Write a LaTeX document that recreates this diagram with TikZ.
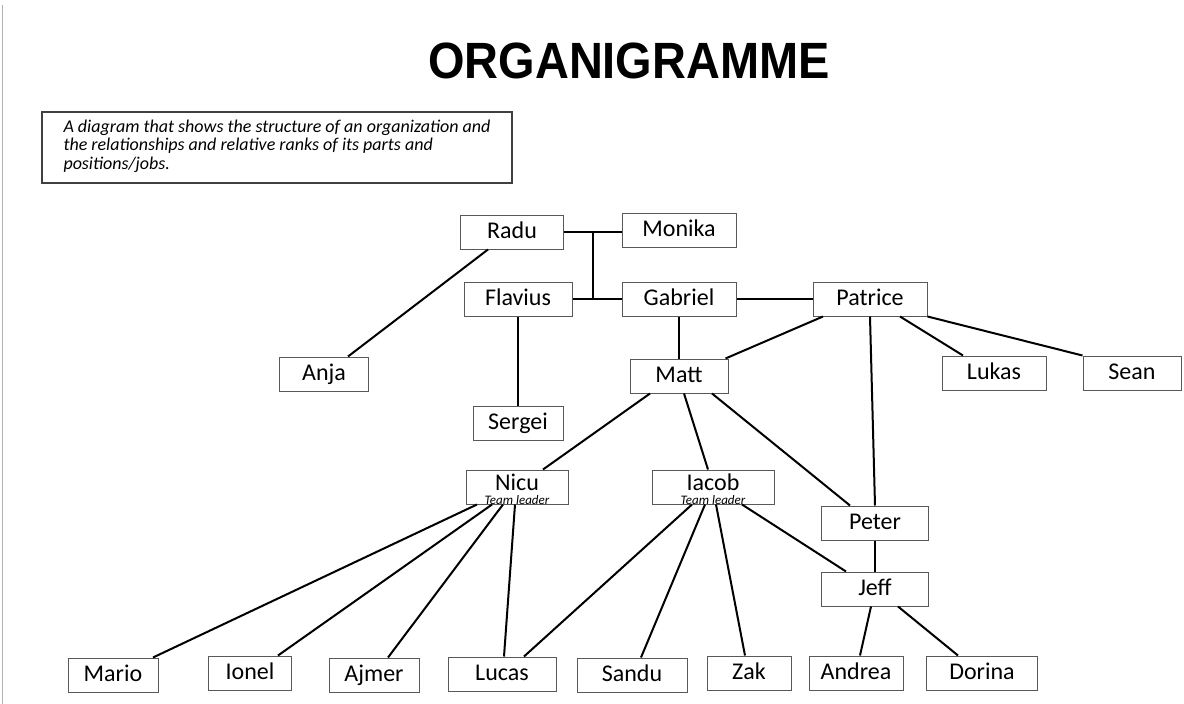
\documentclass[tikz,border=0pt]{standalone}
\usepackage{fontspec}
\setmainfont{Carlito}
\newfontfamily\titlefont{Liberation Sans}

\begin{document}
\begin{tikzpicture}[x=1pt, y=-1pt,
    box/.style = {draw=black!65, line width=1pt, minimum width=#1,
                minimum height=34pt, inner sep=0pt, text height=15pt, text depth=3pt,
                font=\fontsize{24}{26}\selectfont},
    box/.default = 104pt,  % width of the box
    lead/.style = {inner sep=0pt, anchor=base, font=\itshape\fontsize{13}{14}\selectfont},
    link/.style = {black, line width=2pt}
                    ]
        \useasboundingbox (0,0) rectangle (1184,704);
        \draw [black!30, line width=1.5pt] (2.5,5) -- (2.5,704);
        \node[font=\titlefont\bfseries\fontsize{51}{56}\selectfont] at (629,61) (title)
            {\scalebox{0.92}[1]{ORGANIGRAMME}};
        \node[draw=black!75, line width=1.2pt, minimum width=470pt, minimum height=71pt,
              inner sep=0pt, align=left, font=\itshape\fontsize{18}{18.5}\selectfont]
            at (277,147.5) (desc)
            {A diagram that shows the structure of an organization and\\
             the relationships and relative ranks of its parts and\\
             positions/jobs.\rule[-6pt]{0pt}{6pt}};
        % upper levels
        \foreach \x/\y/\w/\v/\t in {512/232/103/radu/Radu, 679/230/114/monika/Monika,
                518/299/108/flavius/Flavius, 679/299/114/gabriel/Gabriel,
                870/299/114/patrice/Patrice, 324/374/89/anja/Anja, 518/423/90/sergei/Sergei,
                679/376/98/matt/Matt, 994/373/104/lukas/Lukas, 1132/373/98/sean/Sean,
                875/523/107/peter/Peter, 875/589/107/jeff/Jeff}
            \node[box=\w] at (\x,\y) (\v) {\t};
        \node[box=102, text depth=9pt] at (517,487) (nicu) {Nicu};
        \node[box=122, text depth=9pt] at (713,487) (iacob) {Iacob};
        \node[lead] at (nicu.south) (nicuLead) {Team leader};
        \node[lead] at (iacob.south) (iacobLead) {Team leader};
        % bottom row
        \foreach \x/\y/\w/\v/\t in {113/675/90/mario/Mario, 250/673/83/ionel/Ionel,
                374/675/90/ajmer/Ajmer, 502/674/108/lucas/Lucas, 632/675/110/sandu/Sandu,
                749/673/84/zak/Zak, 856/673/94/andrea/Andrea, 982/673/111/dorina/Dorina}
            \node[box=\w] at (\x,\y) (\v) {\t};
        \coordinate (knotTop) at (593,231);
        \coordinate (knotBottom) at (593,299);
        \draw [link] (radu.east) -- (monika.west |- radu.east);
        \draw [link] (flavius.east) -- (gabriel.west);
        \draw [link] (knotTop) -- (knotBottom);
        \draw [link] (gabriel.east) -- (patrice.west);
        \draw [link] ([xshift=-24pt]radu.south) -- ([xshift=24pt]anja.north);
        \draw [link] (flavius.south) -- (sergei.north);
        \draw [link] (gabriel.south) -- (matt.north);
        \draw [link] ([xshift=-47pt]patrice.south) -- ([xshift=-3pt]matt.north east);
        \draw [link] (patrice.south) -- (peter.north);
        \draw [link] ([xshift=30pt]patrice.south) -- ([xshift=-31pt]lukas.north);
        \draw [link] (patrice.south east) -- (sean.north west);
        \draw [link] ([xshift=-29pt]matt.south) -- ([xshift=26pt]nicu.north);
        \draw [link] ([xshift=5pt]matt.south) -- ([xshift=-5pt]iacob.north);
        \draw [link] ([xshift=33pt]matt.south) -- ([xshift=-25pt]peter.north);
        \draw [link] (peter.south) -- (jeff.north);
        \draw [link] ([xshift=-40pt]nicu.south) -- ([xshift=40pt]mario.north);
        \draw [link] ([xshift=-25pt]nicu.south) -- ([xshift=28pt]ionel.north);
        \draw [link] ([xshift=-14pt]nicu.south) -- ([xshift=14pt]ajmer.north);
        \draw [link] ([xshift=-2pt]nicu.south) -- ([xshift=2pt]lucas.north);
        \draw [link] ([xshift=-21pt]iacob.south) -- ([xshift=22pt]lucas.north);
        \draw [link] ([xshift=-8pt]iacob.south) -- ([xshift=9pt]sandu.north);
        \draw [link] ([xshift=3pt]iacob.south) -- ([xshift=-4pt]zak.north);
        \draw [link] ([xshift=29pt]iacob.south) -- ([xshift=-29pt]jeff.north);
        \draw [link] ([xshift=-4pt]jeff.south) -- ([xshift=4pt]andrea.north);
        \draw [link] ([xshift=23pt]jeff.south) -- ([xshift=-24pt]dorina.north);
    \end{tikzpicture}
\end{document}
